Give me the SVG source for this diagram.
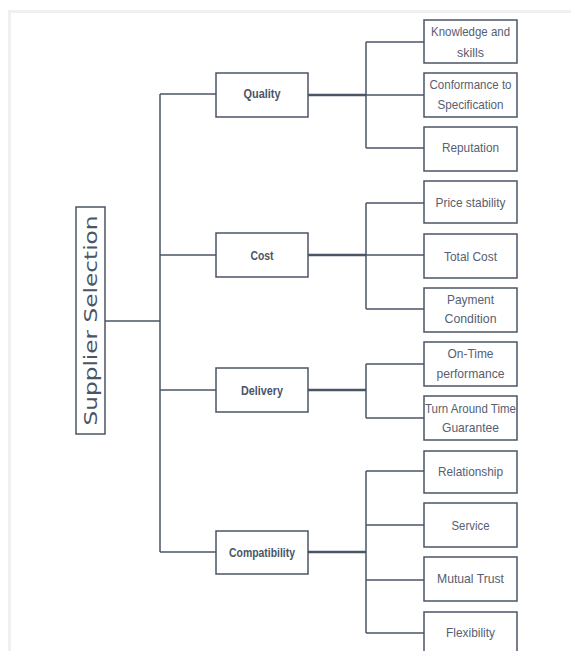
<svg xmlns="http://www.w3.org/2000/svg" width="571" height="651" viewBox="0 0 571 651">
<style>
.box{fill:#ffffff;stroke:#4a5566;stroke-width:1.5}
.ln{fill:none;stroke:#4a5566;stroke-width:1.5}
.thk{fill:none;stroke:#4a5566;stroke-width:2.5}
.t{font-family:"Liberation Sans",Arial,sans-serif;font-size:13.5px;fill:#566072;text-anchor:middle}
.t1{font-family:"Liberation Sans",Arial,sans-serif;font-size:13.5px;font-weight:bold;fill:#4a5566;text-anchor:middle}
.root{font-family:"DejaVu Sans",Verdana,sans-serif;font-size:18px;fill:#4a5566;text-anchor:middle}
</style>
<rect x="0" y="0" width="571" height="651" fill="#ffffff"/>
<rect x="8" y="10" width="563" height="3" fill="#f0f0f0"/>
<rect x="8" y="10" width="3" height="641" fill="#f0f0f0"/>
<g id="connectors">
<path class="ln" d="M105 321H160M160 94V552M160 94H216M160 255H216M160 390H216M160 552H216"/>
<path class="thk" d="M308 95H366M308 255H366M308 390H366M308 552H366"/>
<path class="ln" d="M366 42V148M366 42H424M366 95H424M366 148H424"/>
<path class="ln" d="M366 203V309M366 203H424M366 255H424M366 309H424"/>
<path class="ln" d="M366 364V418M366 364H424M366 418H424"/>
<path class="ln" d="M366 471V633M366 471H424M366 525H424M366 580H424M366 633H424"/>
</g>
<g id="root">
<rect class="box" x="76" y="207" width="29" height="227"/>
<text class="root" transform="translate(96.5,320.5) rotate(-90)" textLength="210" lengthAdjust="spacingAndGlyphs">Supplier Selection</text>
</g>
<g id="quality"><rect class="box" x="216" y="73" width="92" height="44"/><text class="t1" x="262" y="98" textLength="37" lengthAdjust="spacingAndGlyphs">Quality</text></g>
<g id="cost"><rect class="box" x="216" y="233" width="92" height="44"/><text class="t1" x="262" y="259.5" textLength="23" lengthAdjust="spacingAndGlyphs">Cost</text></g>
<g id="delivery"><rect class="box" x="216" y="368" width="92" height="44"/><text class="t1" x="262" y="394.5" textLength="42" lengthAdjust="spacingAndGlyphs">Delivery</text></g>
<g id="compatibility"><rect class="box" x="216" y="531" width="92" height="43"/><text class="t1" x="262" y="556.5" textLength="66" lengthAdjust="spacingAndGlyphs">Compatibility</text></g>
<g id="knowledge"><rect class="box" x="424" y="20" width="93" height="43"/><text class="t" x="470.5" y="35.5" textLength="79" lengthAdjust="spacingAndGlyphs">Knowledge and</text><text class="t" x="470.5" y="56.5" textLength="27" lengthAdjust="spacingAndGlyphs">skills</text></g>
<g id="conformance"><rect class="box" x="424" y="73" width="93" height="44"/><text class="t" x="470.5" y="88.5" textLength="82" lengthAdjust="spacingAndGlyphs">Conformance to</text><text class="t" x="470.5" y="108.5" textLength="66" lengthAdjust="spacingAndGlyphs">Specification</text></g>
<g id="reputation"><rect class="box" x="424" y="127" width="93" height="44"/><text class="t" x="470.5" y="151.5" textLength="57" lengthAdjust="spacingAndGlyphs">Reputation</text></g>
<g id="price"><rect class="box" x="424" y="181" width="93" height="42"/><text class="t" x="470.5" y="206.5" textLength="70" lengthAdjust="spacingAndGlyphs">Price stability</text></g>
<g id="totalcost"><rect class="box" x="424" y="234" width="93" height="44"/><text class="t" x="470.5" y="260.5" textLength="53" lengthAdjust="spacingAndGlyphs">Total Cost</text></g>
<g id="payment"><rect class="box" x="424" y="288" width="93" height="44"/><text class="t" x="470.5" y="303.5" textLength="47" lengthAdjust="spacingAndGlyphs">Payment</text><text class="t" x="470.5" y="322.5" textLength="52" lengthAdjust="spacingAndGlyphs">Condition</text></g>
<g id="ontime"><rect class="box" x="424" y="342" width="93" height="44"/><text class="t" x="470.5" y="357.5" textLength="46" lengthAdjust="spacingAndGlyphs">On-Time</text><text class="t" x="470.5" y="377.5" textLength="68" lengthAdjust="spacingAndGlyphs">performance</text></g>
<g id="turnaround"><rect class="box" x="424" y="396" width="93" height="44"/><text class="t" x="470.5" y="412.5" textLength="91" lengthAdjust="spacingAndGlyphs">Turn Around Time</text><text class="t" x="470.5" y="431.5" textLength="57" lengthAdjust="spacingAndGlyphs">Guarantee</text></g>
<g id="relationship"><rect class="box" x="424" y="451" width="93" height="42"/><text class="t" x="470.5" y="475.5" textLength="65" lengthAdjust="spacingAndGlyphs">Relationship</text></g>
<g id="service"><rect class="box" x="424" y="503" width="93" height="44"/><text class="t" x="470.5" y="529.5" textLength="38" lengthAdjust="spacingAndGlyphs">Service</text></g>
<g id="mutualtrust"><rect class="box" x="424" y="557" width="93" height="44"/><text class="t" x="470.5" y="582.5" textLength="67" lengthAdjust="spacingAndGlyphs">Mutual Trust</text></g>
<g id="flexibility"><rect class="box" x="424" y="612" width="93" height="44"/><text class="t" x="470.5" y="636.5" textLength="49" lengthAdjust="spacingAndGlyphs">Flexibility</text></g>
</svg>
